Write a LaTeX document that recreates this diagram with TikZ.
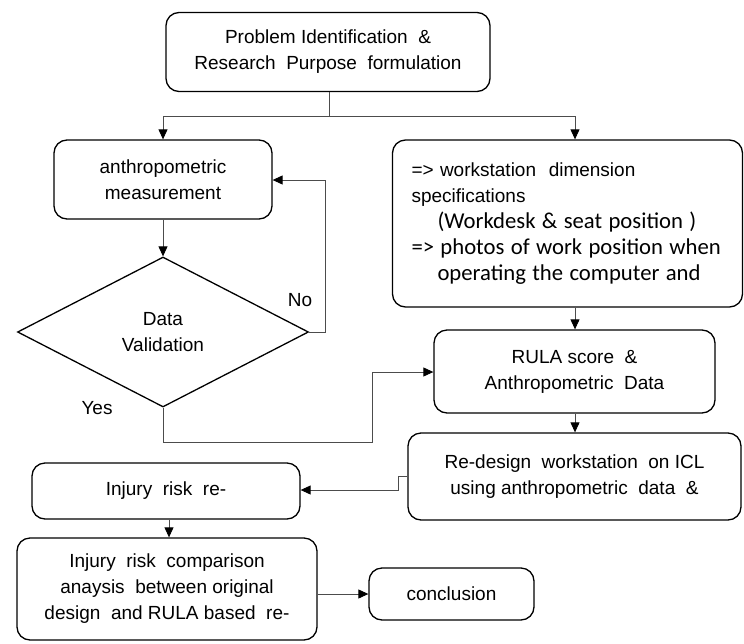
\documentclass[tikz,border=0pt]{standalone}
\usepackage{fontspec}
\setmainfont{Liberation Sans}
\newfontfamily\calib{Carlito}
\usetikzlibrary{arrows.meta,shapes.geometric}
\begin{document}
\begin{tikzpicture}[x=1pt,y=-1pt,
  box/.style={draw=black,line width=1.3pt,rounded corners=13pt,align=center,inner sep=0pt,font=\fontsize{19}{26}\selectfont},
  conn/.style={draw=black!70,line width=0.9pt},
  arr/.style={conn,-{Triangle[length=10pt,width=9pt,color=black]}},
  lbl/.style={font=\fontsize{19}{26}\selectfont,inner sep=0pt}]
\useasboundingbox (0,0) rectangle (744,643);

\node[box,minimum width=324pt,minimum height=79pt] (top) at (328,52)
  {Problem Identification\ \ \&\\Research\ \ Purpose\ \ formulation};
\node[box,minimum width=218pt,minimum height=79pt] (anth) at (163,179.5)
  {anthropometric\\measurement};
\node[box,minimum width=350pt,minimum height=167pt,align=left,text width=312pt] (spec) at (567.5,223.5)
  {=> workstation\ \ dimension\\
   specifications\\
   {\calib\fontsize{22.7}{26}\selectfont\hspace*{26pt}(Workdesk \& seat position )}\\
   {\calib\fontsize{22.7}{26}\selectfont => photos of work position when}\\
   {\calib\fontsize{22.7}{26}\selectfont\hspace*{26pt}operating the computer and}};
\node[draw=black,line width=1.3pt,shape=diamond,minimum width=291pt,minimum height=150pt,inner sep=0pt,align=center,font=\fontsize{19}{26}\selectfont] (valid) at (163,332)
  {Data\\Validation};
\node[box,minimum width=281pt,minimum height=83pt] (rula) at (574.5,371.5)
  {RULA score\ \ \&\\Anthropometric\ \ Data};
\node[box,minimum width=333pt,minimum height=87pt] (redes) at (574.5,476.5)
  {Re-design\ \ workstation\ \ on ICL\\using anthropometric\ \ data\ \ \&};
\node[box,minimum width=268pt,minimum height=56pt] (inj) at (166,491)
  {Injury\ \ risk\ \ re-};
\node[box,minimum width=300pt,minimum height=102pt] (comp) at (167,589)
  {Injury\ \ risk\ \ comparison\\anaysis\ \ between original\\design\ \ and RULA based\ \ re-};
\node[box,minimum width=165pt,minimum height=52pt] (concl) at (451.5,594)
  {conclusion};

\node[lbl] (no) at (300,300) {No};
\node[lbl] (yes) at (97,408) {Yes};

\coordinate (split) at (329,116);
\draw[conn] (329,0 |- top.south) -- (split);
\draw[arr] (split) -- (163,116) -- (anth.north);
\draw[arr] (split) -- (575,116) -- (575,0 |- spec.north);
\draw[arr] (anth.south) -- (valid.north);
\draw[arr] (valid.east) -- (325.6,332) -- (325.6,180) -- (anth.east |- 0,180);
\draw[arr] (valid.south) -- (163,442) -- (372.6,442) -- (372.6,372) -- (rula.west |- 0,372);
\draw[arr] (575,0 |- spec.south) -- (575,0 |- rula.north);
\draw[arr] (575,0 |- rula.south) -- (575,0 |- redes.north);
\draw[arr] (redes.west) -- (398,476.5) -- (398,490) -- (inj.east |- 0,490);
\draw[arr] (169,0 |- inj.south) -- (169,0 |- comp.north);
\draw[arr] (comp.east |- 0,594) -- (concl.west);
\end{tikzpicture}
\end{document}
